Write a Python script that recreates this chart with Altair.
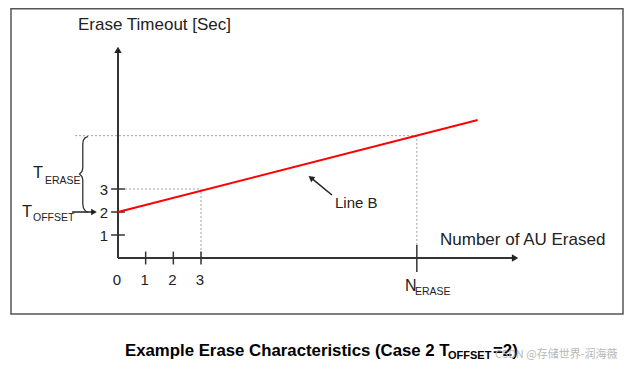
import altair as alt
import pandas as pd

# ---------------- chart values ----------------
line_b_x = [0, 13]
line_b_y = [2.0, 6.0]
x_tick_values = [0, 1, 2, 3]
x_tick_labels = ["0", "1", "2", "3"]
y_tick_values = [1, 2, 3]
y_tick_labels = ["1", "2", "3"]
t_offset = 2.0
ref_x = 3
ref_y = 3
n_erase = 10.8
t_erase = 5.32
x_axis_end = 14.35
y_axis_end = 9.05

FONT = "Liberation Sans"
W, H = 616, 353
X_DOMAIN = [-3.975, 18.287]
Y_DOMAIN = [-4.478, 10.870]

sx = alt.Scale(domain=X_DOMAIN, nice=False, zero=False)
sy = alt.Scale(domain=Y_DOMAIN, nice=False, zero=False)


def X(f="x"):
    return alt.X(f"{f}:Q", scale=sx, axis=None)


def Y(f="y"):
    return alt.Y(f"{f}:Q", scale=sy, axis=None)


def rules(rows, color, width, dash=None):
    df = pd.DataFrame(rows, columns=["x", "x2", "y", "y2"])
    kw = dict(color=color, strokeWidth=width)
    if dash:
        kw["strokeDash"] = dash
    return alt.Chart(df).mark_rule(**kw).encode(
        x=X(), x2="x2:Q", y=Y(), y2="y2:Q"
    )


def label(text, x, y, size, align="left", baseline="alphabetic",
          weight="normal", color="#222222", font=FONT):
    df = pd.DataFrame({"x": [x], "y": [y], "t": [text]})
    return alt.Chart(df).mark_text(
        align=align, baseline=baseline, fontSize=size, fontWeight=weight,
        font=font, color=color
    ).encode(x=X(), y=Y(), text="t:N")


def head(x, y, shape, angle=0, size=55):
    df = pd.DataFrame({"x": [x], "y": [y]})
    return alt.Chart(df).mark_point(
        shape=shape, filled=True, size=size, color="#222222", opacity=1,
        angle=angle
    ).encode(x=X(), y=Y())


# frame
frame = alt.Chart(pd.DataFrame({"x": [-3.867], "x2": [18.251],
                                "y": [10.84], "y2": [-2.435]})).mark_rect(
    fillOpacity=0, stroke="#555555", strokeWidth=1.5
).encode(x=X(), x2="x2:Q", y=Y(), y2="y2:Q")

# dotted guide lines
guides = rules([
    (0.25, ref_x, ref_y, ref_y),
    (ref_x, ref_x, 0, ref_y),
    (-1.55, n_erase, t_erase, t_erase),
    (n_erase, n_erase, 0.57, t_erase),
], "#a0a0a0", 1, [2, 2])

# axes
axes = rules([
    (0, 0, 0, y_axis_end),
    (0, x_axis_end, 0, 0),
], "#333333", 2)

ticks = rules(
    [(-0.25, 0.25, v, v) for v in y_tick_values]
    + [(v, v, 0.28, -0.28) for v in x_tick_values if v != 0]
    + [(n_erase, n_erase, 0.57, -0.61)],
    "#333333", 1.5)

# other arrows
arrow_lines = rules([
    (-1.66, -0.87, t_offset, t_offset),
    (7.734, 7.0, 2.739, 3.461),
], "#222222", 1.5)

heads = alt.layer(
    head(0, y_axis_end, "triangle-up"),
    head(x_axis_end, 0, "triangle-right"),
    head(-0.867, t_offset, "triangle-right", size=45),
    head(7.0, 3.461, "triangle", angle=307, size=45),
)

# brace
brace_x = [-1.084, -1.193, -1.254, -1.272, -1.272, -1.301, -1.391, -1.301,
           -1.272, -1.272, -1.247, -1.175, -1.084]
brace_y = [5.283, 5.226, 5.109, 4.957, 3.913, 3.761, 3.652, 3.543,
           3.391, 2.348, 2.174, 2.043, 1.978]
brace = alt.Chart(pd.DataFrame({"x": brace_x, "y": brace_y,
                                "o": list(range(len(brace_x)))})).mark_line(
    color="#333333", strokeWidth=1.3
).encode(x=X(), y=Y(), order="o:Q")

# Line B
line_b = alt.Chart(pd.DataFrame({"x": line_b_x, "y": line_b_y})).mark_line(
    color="#ff0000", strokeWidth=2
).encode(x=X(), y=Y())

# tick labels
ytl = alt.Chart(pd.DataFrame({"y": y_tick_values, "t": y_tick_labels,
                              "x": [-0.36] * len(y_tick_values)})).mark_text(
    align="right", baseline="middle", fontSize=15, font=FONT, color="#222222", dy=1
).encode(x=X(), y=Y(), text="t:N")

xtl = alt.Chart(pd.DataFrame({"x": x_tick_values, "t": x_tick_labels,
                              "y": [-1.174] * len(x_tick_values)})).mark_text(
    align="center", baseline="alphabetic", fontSize=15, font=FONT,
    color="#222222", dx=-1
).encode(x=X(), y=Y(), text="t:N")

texts = alt.layer(
    label("Erase Timeout [Sec]", -1.446, 9.913, 17),
    label("Number of AU Erased", 11.637, 0.565, 17),
    label("T", -3.072, 3.478, 16.5),
    label("ERASE", -2.638, 3.217, 10.5),
    label("T", -3.469, 1.783, 16.5),
    label("OFFSET", -3.072, 1.609, 10.5),
    label("N", 10.372, -1.435, 16),
    label("ERASE", 10.734, -1.609, 10.5),
    label("Line B", 7.842, 2.174, 15),
    label("Example Erase Characteristics (Case 2 T", 0.253, -4.261, 16.8,
          weight="bold", color="#000000"),
    label("OFFSET", 11.926, -4.391, 11, weight="bold", color="#000000"),
    label("=2)", 13.553, -4.261, 16.8, weight="bold", color="#000000"),
    label("CSDN @存储世界-润海薇", 13.625, -4.35, 11, color="#b8b8b8",
          font="Noto Sans CJK SC"),
)

chart = alt.layer(
    frame, guides, axes, ticks, arrow_lines, heads, brace, line_b,
    ytl, xtl, texts
).properties(
    width=W, height=H, padding=0,
    autosize=alt.AutoSizeParams(type="none"),
    background="white",
).configure_view(stroke=None)

chart.save("out.html", embed_options={"renderer": "svg", "actions": False})
